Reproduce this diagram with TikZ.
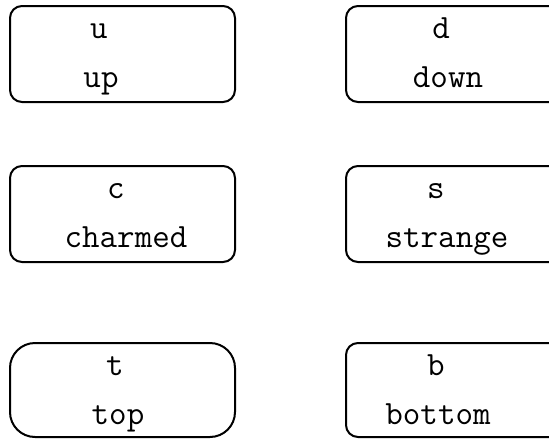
\documentclass[tikz,border=0pt]{standalone}
\begin{document}
\begin{tikzpicture}[x=1pt,y=-1pt,
  quark/.style={draw,line width=2pt,rounded corners=12pt,minimum width=225pt,minimum height=96pt,inner sep=0pt},
  lbl/.style={anchor=base,inner sep=0pt,font=\ttfamily\fontsize{34}{34}\selectfont}]
\useasboundingbox (0,0) rectangle (549,439);
\clip (0,0) rectangle (549,439);
\node[quark] (u) at (122.5,54) {};
\node[quark] (d) at (458.5,54) {};
\node[quark] (c) at (122.5,214) {};
\node[quark] (s) at (458.5,214) {};
\node[quark,rounded corners=25pt,minimum height=94pt] (t) at (122.5,390) {};
\node[quark,minimum height=94pt] (b) at (458.5,390) {};
\node[lbl] (usym) at (99,38) {u};
\node[lbl] (uname) at (101,87) {up};
\node[lbl] (dsym) at (441,38) {d};
\node[lbl] (dname) at (448,87) {down};
\node[lbl] (csym) at (116,198) {c};
\node[lbl] (cname) at (126,247) {charmed};
\node[lbl] (ssym) at (436,198) {s};
\node[lbl] (sname) at (447,247) {strange};
\node[lbl] (tsym) at (115,375) {t};
\node[lbl] (tname) at (118,424) {top};
\node[lbl] (bsym) at (436,375) {b};
\node[lbl] (bname) at (438,424) {bottom};
\end{tikzpicture}
\end{document}
